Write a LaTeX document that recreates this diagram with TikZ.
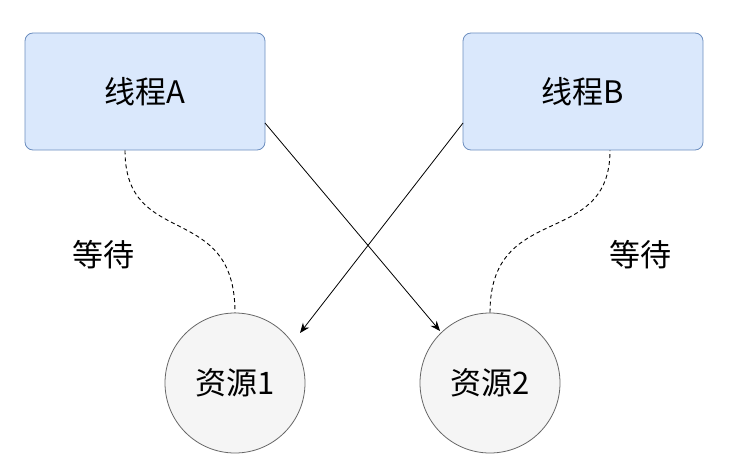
\documentclass[tikz,border=0pt]{standalone}
\usepackage{fontspec}
\setmainfont{Noto Sans CJK SC}
\usetikzlibrary{arrows.meta}
\definecolor{bfill}{HTML}{DAE8FC}
\definecolor{bline}{HTML}{6C8EBF}
\definecolor{cfill}{HTML}{F5F5F5}
\definecolor{cline}{HTML}{666666}
\tikzset{
 thread/.style={draw=bline,fill=bfill,rounded corners=8pt,minimum width=240pt,minimum height=117pt,font=\fontsize{31}{35}\selectfont,line width=0.8pt},
 res/.style={circle,draw=cline,fill=cfill,minimum size=140pt,font=\fontsize{31}{35}\selectfont,line width=0.8pt},
 lab/.style={font=\fontsize{31}{35}\selectfont},
 arr/.style={-{Stealth[length=10pt,width=8pt]},line width=0.8pt},
 wait/.style={dash pattern=on 4pt off 3pt,line width=0.9pt,draw=black}
}
\begin{document}
\begin{tikzpicture}[x=1pt,y=-1pt]
\useasboundingbox (0,0) rectangle (744,468);
\node[thread] (A) at (145,91.5) {线程A};
\node[thread] (B) at (583,91.5) {线程B};
\node[res] (R1) at (235,383) {资源1};
\node[res] (R2) at (490,383) {资源2};
\coordinate (a1) at (265,123);
\coordinate (b1) at (463,123);
\coordinate (t1) at (300,333);
\coordinate (t2) at (440,331);
\draw[arr] (a1) -- (t2);
\draw[arr] (b1) -- (t1);
\draw[wait] (A.south -| 125,0) .. controls (125,250) and (235,200) .. (R1.north);
\draw[wait] (R2.north) .. controls (490,200) and (610,250) .. (B.south -| 610,0);
\node[lab] (w1) at (103,255) {等待};
\node[lab] (w2) at (640,255) {等待};
\end{tikzpicture}
\end{document}
